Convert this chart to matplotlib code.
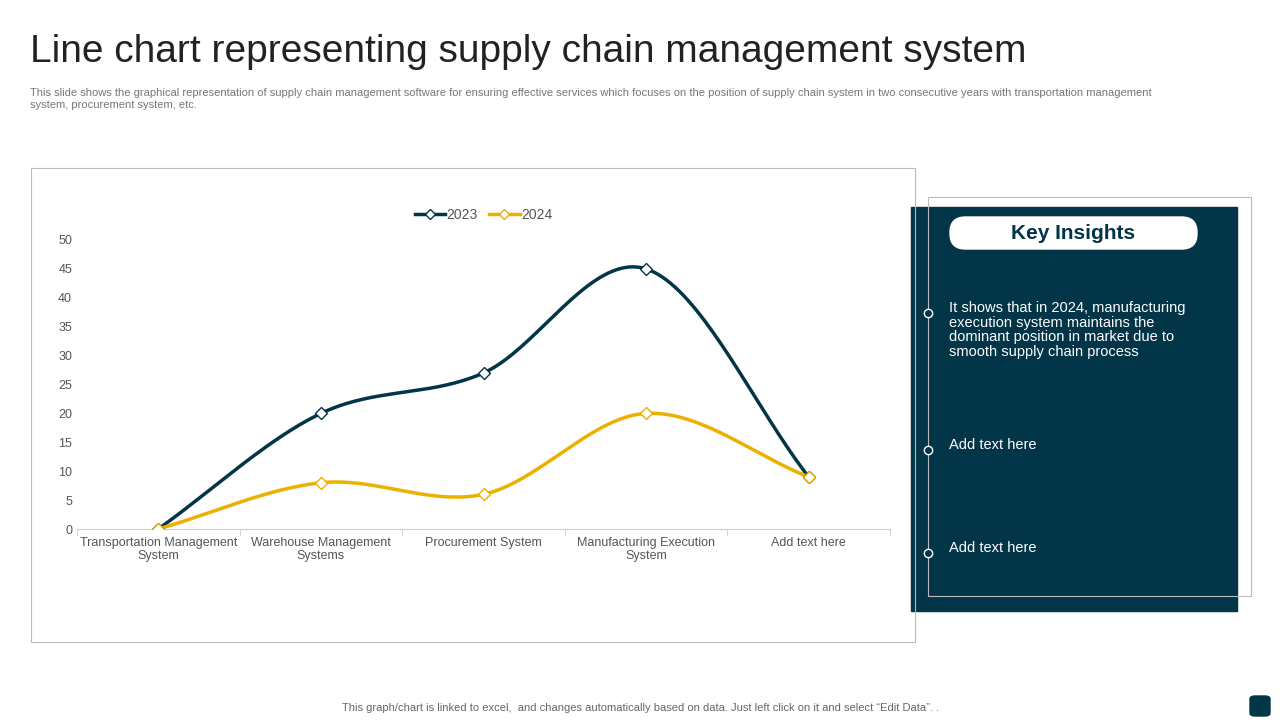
import numpy as np
import matplotlib.pyplot as plt
from matplotlib.patches import Rectangle, FancyBboxPatch

categories = ["Transportation Management\nSystem", "Warehouse Management\nSystems",
              "Procurement System", "Manufacturing Execution\nSystem", "Add text here"]
values_2023 = [0, 20, 27, 45, 9]
values_2024 = [0, 8, 6, 20, 9]
y_ticks = [0, 5, 10, 15, 20, 25, 30, 35, 40, 45, 50]

DARK = "#023548"
GOLD = "#EBB000"
W, H = 1280, 720


def fx(x):
    return x / W


def fy(y):
    return 1 - y / H


def smooth(xs, ys, n=40):
    # Catmull-Rom style smoothing like Excel's smoothed line
    xs = np.asarray(xs, float)
    ys = np.asarray(ys, float)
    px = np.concatenate([[2 * xs[0] - xs[1]], xs, [2 * xs[-1] - xs[-2]]])
    py = np.concatenate([[2 * ys[0] - ys[1]], ys, [2 * ys[-1] - ys[-2]]])
    out_x, out_y = [], []
    t = np.linspace(0, 1, n)
    for i in range(1, len(px) - 2):
        for p, out in ((px, out_x), (py, out_y)):
            p0, p1, p2, p3 = p[i - 1], p[i], p[i + 1], p[i + 2]
            out.extend(0.5 * (2 * p1 + (-p0 + p2) * t
                              + (2 * p0 - 5 * p1 + 4 * p2 - p3) * t ** 2
                              + (-p0 + 3 * p1 - 3 * p2 + p3) * t ** 3))
    return out_x, out_y


fig = plt.figure(figsize=(12.8, 7.2), dpi=100)
plt.rcParams["font.family"] = "Liberation Sans"

fig.text(fx(30), fy(52), "Line chart representing supply chain management system",
         fontsize=28, color="#222222", va="center")
fig.text(fx(30), fy(99),
         "This slide shows the graphical representation of supply chain management software for ensuring effective services which focuses on the position of supply chain system in two consecutive years with transportation management\nsystem, procurement system, etc.",
         fontsize=8, color="#777777", va="center", linespacing=1.2)
fig.text(fx(640), fy(708),
         "This graph/chart is linked to excel,  and changes automatically based on data. Just left click on it and select \u201cEdit Data\u201d. .",
         fontsize=8, color="#666666", ha="center", va="center")
fig.patches.append(FancyBboxPatch((fx(1250), fy(716)), fx(20), 20 / H,
                                  boxstyle="round,pad=0,rounding_size=0.004",
                                  transform=fig.transFigure, color=DARK))

# chart frame
fig.patches.append(Rectangle((fx(31), fy(642)), fx(884), 474 / H, transform=fig.transFigure,
                             fill=False, edgecolor="#BBBBBB", lw=0.8))

ax = fig.add_axes([fx(77), fy(529), fx(813), 289 / H])
x = np.arange(len(categories))
for vals, col, lab in ((values_2023, DARK, "2023"), (values_2024, GOLD, "2024")):
    sx, sy = smooth(x, vals)
    ax.plot(sx, sy, color=col, lw=2.5, zorder=2)
    ax.plot(x, vals, ls="none", marker="D", ms=6, mfc="white", mec=col, mew=1, zorder=3)
    ax.plot([], [], color=col, lw=2.5, marker="D", ms=5, mfc="white", mec=col, label=lab)
ax.set_xlim(-0.5, 4.5)
ax.set_ylim(0, 50)
ax.set_yticks(y_ticks)
ax.set_xticks(x)
ax.set_xticklabels(categories, fontsize=9, color="#555555", linespacing=1.1)
ax.tick_params(axis="y", labelsize=9, labelcolor="#555555", length=0)
ax.tick_params(axis="x", length=0, pad=6)
ax.set_xticks(np.arange(-0.5, 5, 1), minor=True)
ax.tick_params(axis="x", which="minor", length=5, color="#CCCCCC")
for s in ("top", "right", "left"):
    ax.spines[s].set_visible(False)
ax.spines["bottom"].set_color("#CCCCCC")
ax.patch.set_alpha(0)
ax.legend(loc="lower center", bbox_to_anchor=(0.5, 1.02), ncol=2, frameon=False,
          fontsize=10, labelcolor="#555555", handlelength=2.2, columnspacing=0.8,
          handletextpad=0.1)

# insights panel
fig.patches.append(Rectangle((fx(911), fy(611)), fx(326), 404 / H, transform=fig.transFigure,
                             color=DARK, zorder=0))
fig.patches.append(Rectangle((fx(928), fy(596)), fx(323), 399 / H, transform=fig.transFigure,
                             fill=False, edgecolor="#BBBBBB", lw=0.8, zorder=1))
fig.patches.append(FancyBboxPatch((fx(950), fy(249)), fx(247), 32 / H,
                                  boxstyle="round,pad=0,rounding_size=0.012",
                                  mutation_aspect=W / H,
                                  transform=fig.transFigure, color="white", zorder=2))
fig.text(fx(1073), fy(234), "Key Insights", fontsize=15, fontweight="bold",
         color=DARK, ha="center", va="center")
insights = [(313, "It shows that in 2024, manufacturing\nexecution system maintains the\ndominant position in market due to\nsmooth supply chain process"),
            (450, "Add text here"), (553, "Add text here")]
for yy, txt in insights:
    fig.text(fx(949), fy(yy - 12), txt, fontsize=10.5, color="white", va="top", linespacing=1.05)
    fig.lines.append(plt.Line2D([fx(928)], [fy(yy)], transform=fig.transFigure, marker="o",
                                ms=6, mfc=DARK, mec="white", mew=1, zorder=3))

fig.savefig("out.png", dpi=100)
